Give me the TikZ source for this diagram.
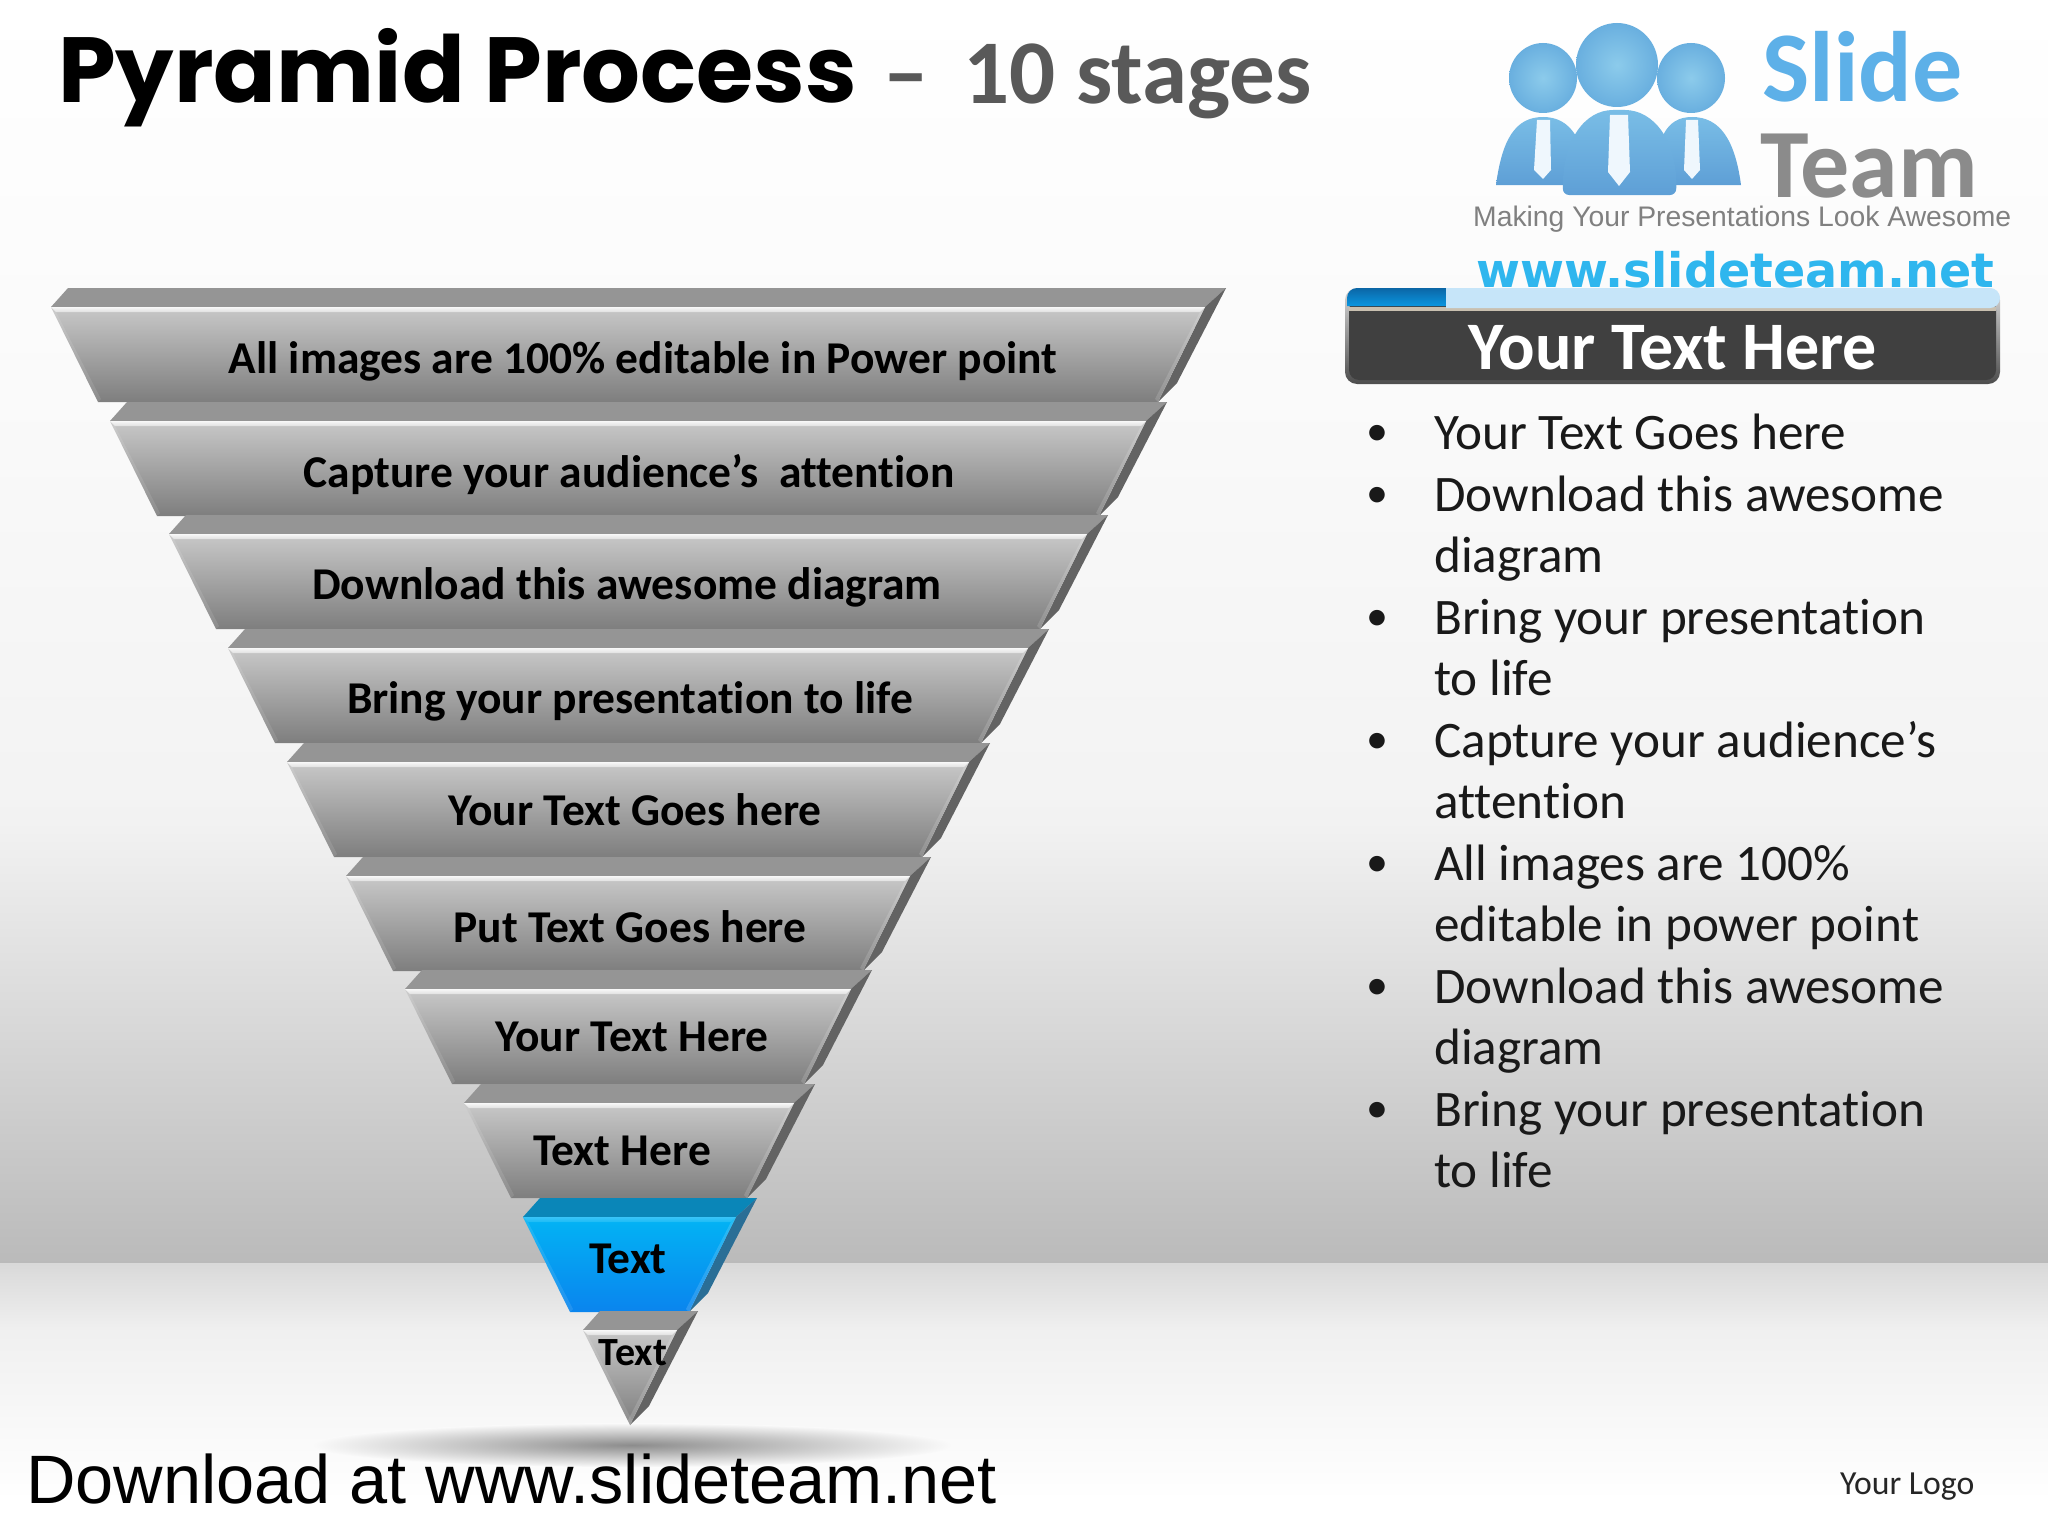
\documentclass[tikz,border=0pt]{standalone}
\usepackage{fontspec}
\usepackage{xcolor}
\setmainfont{Carlito}[Ligatures={TeX,NoCommon}]
\newfontfamily\titlefont{Poppins}
\newfontfamily\arialfont{Liberation Sans}
\newfontfamily\webfont{DejaVu Sans}
\usetikzlibrary{positioning}

\definecolor{greyback}{HTML}{959595}
\definecolor{greyside}{HTML}{636363}
\definecolor{greytop}{HTML}{C8C8C8}
\definecolor{greybot}{HTML}{7E7E7E}
\definecolor{greyedge}{HTML}{F8F8F8}
\definecolor{blueback}{HTML}{0A86B8}
\definecolor{blueside}{HTML}{2A6E96}
\definecolor{bluetop}{HTML}{02B4F4}
\definecolor{bluebot}{HTML}{0A84EE}
\definecolor{blueedge}{HTML}{38C4F8}
\definecolor{logoblue}{HTML}{5DB0E8}
\definecolor{logogrey}{HTML}{8B8B8B}
\definecolor{webblue}{HTML}{2FB6EE}
\definecolor{bodytop}{HTML}{79BDE6}
\definecolor{bodybot}{HTML}{5E9FD6}
\definecolor{headin}{HTML}{8CCBEB}
\definecolor{headout}{HTML}{69AFDF}
\definecolor{striplight}{HTML}{C6E5F9}
\definecolor{stripdark}{HTML}{0B66A6}
\definecolor{stripblue}{HTML}{0A96E0}
\definecolor{striptan}{HTML}{C9C0B0}

\newcommand{\pyrtier}[4]{%
    \fill[#4back] (#1+17,#2-19) -- (#1+#3+21,#2-19) -- (#1+#3,#2) -- (#1,#2) -- cycle;
    \fill[#4side] (#1+#3+21,#2-19) -- (#1+#3-28,#2+76) -- (#1+#3-47,#2+95) -- (#1+#3,#2) -- cycle;
    \shade[top color=#4top, bottom color=#4bot] (#1,#2) -- (#1+#3,#2) -- (#1+#3-47,#2+95) -- (#1+47,#2+95) -- cycle;
    \fill[white, opacity=0.1] (#1,#2) -- (#1+5,#2+5) -- (#1+50,#2+92) -- (#1+47,#2+95) -- cycle;
    \fill[white, opacity=0.14] (#1+#3,#2) -- (#1+#3-5,#2+5) -- (#1+#3-50,#2+92) -- (#1+#3-47,#2+95) -- cycle;
    \shade[top color=#4edge, bottom color=#4edge!50!#4top] (#1,#2) -- (#1+#3,#2) -- (#1+#3-5,#2+5) -- (#1+5,#2+5) -- cycle;
}

\tikzset{
    tierlabel/.style={inner sep=0pt, text=black, font=\fontsize{45.5}{50}\selectfont\bfseries},
    smalllabel/.style={inner sep=0pt, text=black, font=\fontsize{40}{44}\selectfont\bfseries},
    textat/.style={inner sep=0pt, anchor=base west},
    bulletlist/.style={inner sep=0pt, anchor=north west, align=left, text=black!90,
        font=\fontsize{51.2}{61.5}\selectfont},
    logobody/.style={top color=bodytop, bottom color=bodybot},
    logotie/.style={fill=white!90!logoblue},
    logohead/.style={inner color=headin, outer color=headout}
}

\newcommand{\bul}{\llap{\raisebox{4pt}{\fontsize{44}{44}\selectfont\textbullet}\hskip 46pt}}

\begin{document}
\begin{tikzpicture}[x=1pt,y=-1pt]
    \useasboundingbox (0,0) rectangle (2048,1536);
    \fill[white] (0,0) rectangle (2048,1536);
    \shade[top color=white, bottom color=white!98!black] (0,0) rectangle (2048,400);
    \shade[top color=white!98!black, bottom color=white!95!black] (0,400) rectangle (2048,820);
    \shade[top color=white!95!black, bottom color=white!73!black] (0,820) rectangle (2048,1263);
    \shade[top color=white!85!black, bottom color=white!94!black] (0,1263) rectangle (2048,1330);
    \shade[top color=white!94!black, bottom color=white] (0,1330) rectangle (2048,1500);
    \shade[inner color=black!45, outer color=white!98!black] (632,1445) ellipse (320 and 22);

    \pyrtier{51}{307}{1154}{grey}
    \pyrtier{110}{421}{1036}{grey}
    \pyrtier{169}{534}{918}{grey}
    \pyrtier{228}{648}{800}{grey}
    \pyrtier{287}{762}{682}{grey}
    \pyrtier{346}{876}{564}{grey}
    \pyrtier{405}{989}{446}{grey}
    \pyrtier{464}{1103}{330}{grey}
    \pyrtier{523}{1217}{213}{blue}
    \pyrtier{583}{1330}{94}{grey}

    \node[tierlabel] (all) at (643,361) {All images are 100\% editable in Power point};
    \node[tierlabel] (capture) at (629,475) {Capture your audience’s\ \ attention};
    \node[tierlabel] (download) at (627,587) {Download this awesome diagram};
    \node[tierlabel] (bring) at (630,701) {Bring your presentation to life};
    \node[tierlabel] (goes) at (635,810) {Your Text Goes here};
    \node[tierlabel] (put) at (630,927) {Put Text Goes here};
    \node[tierlabel] (here) at (632,1037) {Your Text Here};
    \node[tierlabel] (texthere) at (622,1151) {Text Here};
    \node[tierlabel] (text) at (628,1259) {Text};
    \node[smalllabel] (small) at (633,1353) {Text};

    \node[textat, text=black] (title) at (58,103)
        {\titlefont\bfseries\fontsize{92.5}{100}\selectfont Pyramid Process};
    \node[textat, text=black!65] (stages) at (883,104)
        {\fontsize{91}{100}\selectfont\bfseries –\hskip 35pt 10 stages};

    \shade[logobody] (1496,185) .. controls (1502,140) and (1515,117) .. (1543,117) .. controls (1571,117) and (1584,140) .. (1590,185) -- cycle;
    \shade[logobody] (1654,185) .. controls (1656,140) and (1665,117) .. (1692,117) .. controls (1720,117) and (1735,140) .. (1741,185) -- cycle;
    \shade[logobody, rounded corners=6pt] (1563,195) .. controls (1562,140) and (1585,110) .. (1619,110) .. controls (1653,110) and (1678,140) .. (1676,195) -- cycle;
    \shade[logohead] (1543,78) ellipse (34 and 35);
    \shade[logohead] (1691,78) ellipse (34 and 35);
    \shade[logohead] (1617,65) ellipse (41 and 42);
    \fill[logotie] (1537,120) -- (1550,120) -- (1551,170) -- (1543,179) -- (1534,170) -- cycle;
    \fill[logotie] (1610,115) -- (1628,115) -- (1630,172) -- (1619,186) -- (1608,172) -- cycle;
    \fill[logotie] (1686,120) -- (1698,120) -- (1700,170) -- (1692,179) -- (1684,170) -- cycle;

    \node[textat, text=logoblue] (slide) at (1762,102)
        {\fontsize{100}{100}\selectfont\bfseries Slide};
    \node[textat, text=logogrey] (team) at (1760,197)
        {\fontsize{98}{100}\selectfont\bfseries Team};
    \node[textat, text=black!50] (making) at (1473,226)
        {\arialfont\fontsize{28.3}{32}\selectfont Making Your Presentations Look Awesome};
    \node[textat, text=webblue] (web) at (1476,287)
        {\webfont\bfseries\fontsize{47.6}{50}\selectfont www.slideteam.net};

    \shade[top color=black!15, bottom color=black!70, rounded corners=12pt] (1345,288) rectangle (2000,384);
    \fill[black!75, rounded corners=10pt] (1349,300) rectangle (1996,380);
    \fill[striptan] (1349,307) rectangle (1996,311);
    \shade[top color=stripdark, bottom color=stripblue, rounded corners=10pt]
        (1347,306) -- (1347,288) -- (1460,288) [sharp corners] -- (1446,288) -- (1446,306) -- cycle;
    \fill[striplight, rounded corners=10pt]
        (1446,308) [sharp corners] -- (1446,288) [rounded corners=10pt] -- (2000,288) -- (2000,308) [sharp corners] -- cycle;
    \node[inner sep=0pt, text=white] (header) at (1673,348)
        {\fontsize{68}{70}\selectfont\bfseries Your Text Here};

    \node[bulletlist] (bullets) at (1434,414) {%
        \bul Your Text Goes here\\
        \bul Download this awesome\\
        diagram\\
        \bul Bring your presentation\\
        to life\\
        \bul Capture your audience’s\\
        attention\\
        \bul All images are 100\%\\
        editable in power point\\
        \bul Download this awesome\\
        diagram\\
        \bul Bring your presentation\\
        to life};

    \node[textat, text=black] (site) at (26,1503)
        {\arialfont\fontsize{68.5}{70}\selectfont Download at www.slideteam.net};
    \node[textat, text=black!85] (logo) at (1840,1494)
        {\fontsize{33.7}{36}\selectfont Your Logo};
\end{tikzpicture}
\end{document}
